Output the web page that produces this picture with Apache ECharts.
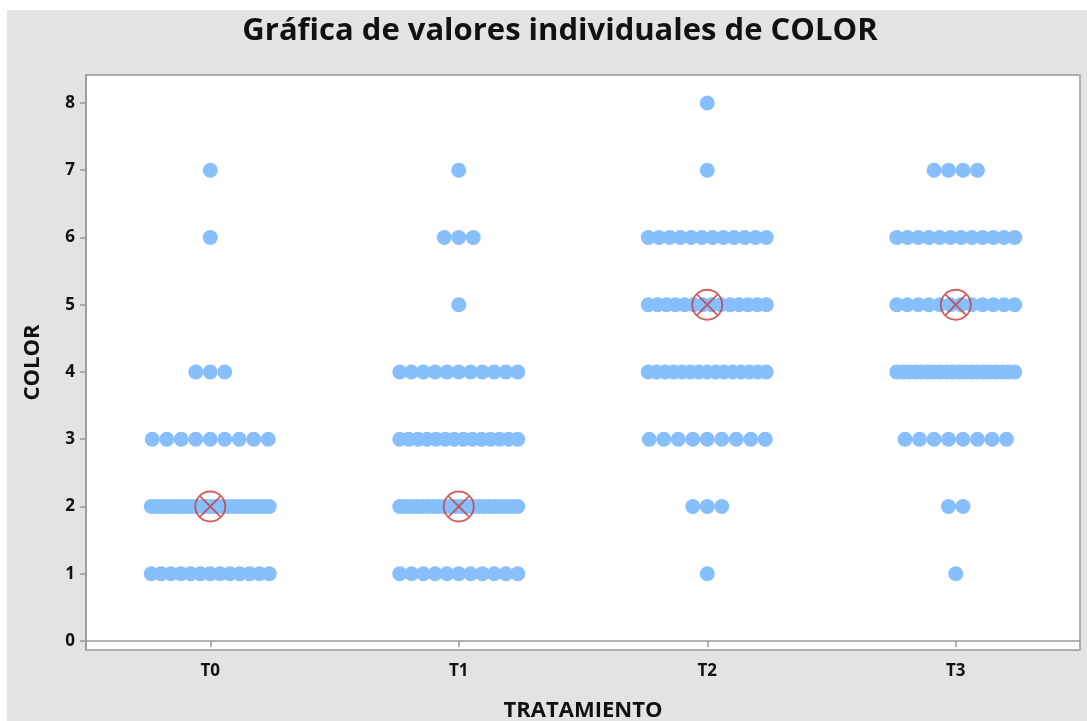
<!DOCTYPE html>
<html>
<head>
<meta charset="utf-8">
<title>Gráfica de valores individuales de COLOR</title>
<script src="https://cdn.jsdelivr.net/npm/echarts@6/dist/echarts.min.js"></script>
<style>
  html, body { margin: 0; padding: 0; background: #ffffff; }
  #chart { position: absolute; left: 7px; top: 10px; width: 1080px; height: 711px; }
</style>
</head>
<body>
<div id="chart"></div>
<script>
// Treatments on the x axis
const categories = ['T0', 'T1', 'T2', 'T3'];
// COLOR scores that occur (1..8) and how many samples got each score, per treatment
const colorLevels = [1, 2, 3, 4, 5, 6, 7, 8];
const countsT0 = [13, 24, 9, 3, 0, 1, 1, 0];
const countsT1 = [11, 22, 14, 11, 1, 3, 1, 0];
const countsT2 = [1, 3, 9, 15, 14, 12, 1, 1];
const countsT3 = [1, 2, 8, 20, 12, 12, 4, 0];
// Central value marked with the circled cross for each treatment
const markerValues = [2, 2, 5, 5];
// Y axis tick labels
const yTicks = [0, 1, 2, 3, 4, 5, 6, 7, 8];

const countsByTreatment = [countsT0, countsT1, countsT2, countsT3];

// Tied scores are spread side by side around the category centre
const DOT = 15;          // dot diameter (px)
const MAX_STEP = 14.5;   // spacing of dots when there is room
const MAX_SPREAD = 118;  // widest spread of a row (centre to centre, px)

const points = [];
countsByTreatment.forEach((counts, ci) => {
  counts.forEach((n, li) => {
    const step = n > 1 ? Math.min(MAX_STEP, MAX_SPREAD / (n - 1)) : 0;
    for (let i = 0; i < n; i++) {
      points.push({
        value: [categories[ci], colorLevels[li]],
        symbolOffset: [(i - (n - 1) / 2) * step, 0]
      });
    }
  });
});

const markerData = categories.map((c, i) => [c, markerValues[i]]);

const FONT = "'Open Sans', 'Noto Sans', sans-serif";
const AXIS_GREY = '#9a9a9a';

const chart = echarts.init(document.getElementById('chart'), null, { renderer: 'canvas' });
chart.setOption({
  backgroundColor: '#e3e3e3',
  animation: false,
  title: {
    text: 'Gráfica de valores individuales de COLOR',
    left: 548,
    top: 1,
    textAlign: 'center',
    textStyle: { fontFamily: FONT, fontWeight: 'bold', fontSize: 31, color: '#111111' }
  },
  grid: {
    left: 79, right: 7, top: 65, bottom: 71,
    outerBoundsMode: 'none',
    containLabel: false,
    show: true,
    backgroundColor: '#ffffff',
    borderColor: AXIS_GREY,
    borderWidth: 1.5
  },
  xAxis: {
    type: 'category',
    data: categories,
    boundaryGap: true,
    name: 'TRATAMIENTO',
    nameLocation: 'middle',
    nameGap: 50,
    nameTextStyle: { fontFamily: FONT, fontWeight: 'bold', fontSize: 22, color: '#111111' },
    axisLine: { show: true, lineStyle: { color: AXIS_GREY, width: 1.5 } },
    axisTick: { show: true, alignWithLabel: true, length: 6, lineStyle: { color: AXIS_GREY, width: 1.5 } },
    axisLabel: { fontFamily: FONT, fontWeight: 'bold', fontSize: 17, color: '#111111', margin: 13 },
    splitLine: { show: false }
  },
  yAxis: {
    type: 'value',
    min: -0.134,
    max: 8.416,
    name: 'COLOR',
    nameLocation: 'middle',
    nameGap: 42,
    nameRotate: 90,
    nameTextStyle: { fontFamily: FONT, fontWeight: 'bold', fontSize: 22, color: '#111111' },
    axisLine: { show: true, lineStyle: { color: AXIS_GREY, width: 1.5 } },
    axisTick: { show: true, length: 6, customValues: yTicks, lineStyle: { color: AXIS_GREY, width: 1.5 } },
    axisLabel: { fontFamily: FONT, fontWeight: 'bold', fontSize: 17, color: '#111111', margin: 11, customValues: yTicks },
    splitLine: { show: false }
  },
  series: [
    {
      name: 'COLOR',
      type: 'scatter',
      symbol: 'circle',
      symbolSize: DOT,
      itemStyle: { color: '#86bffc', opacity: 1 },
      emphasis: { disabled: true },
      data: points,
      z: 2
    },
    {
      name: 'Centro',
      type: 'scatter',
      symbol: 'path://M0,15 A15,15 0 1,1 30,15 A15,15 0 1,1 0,15 Z M4.4,4.4 L25.6,25.6 M25.6,4.4 L4.4,25.6',
      symbolSize: 30,
      itemStyle: { color: 'rgba(0,0,0,0)', borderColor: '#c63b37', borderWidth: 1.8 },
      emphasis: { disabled: true },
      data: markerData,
      z: 3
    }
  ]
});
</script>
</body>
</html>
